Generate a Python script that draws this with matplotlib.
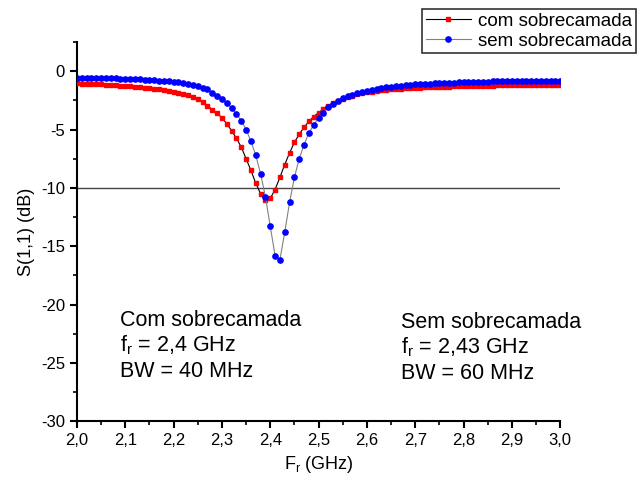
import numpy as np
import matplotlib.pyplot as plt
from matplotlib.ticker import MultipleLocator, FuncFormatter

plt.rcParams['font.family'] = ['Liberation Sans', 'DejaVu Sans']
plt.rcParams['mathtext.fontset'] = 'custom'
plt.rcParams['mathtext.rm'] = 'Liberation Sans'

# frequency grid (GHz), 0.01 GHz step
freq = np.linspace(2.0, 3.0, 101)

# S11 com sobrecamada (dB)
s11_com = [
    -1.05, -1.06, -1.08, -1.09, -1.11, -1.13, -1.15, -1.18, -1.20, -1.23,
    -1.26, -1.29, -1.32, -1.36, -1.40, -1.44, -1.49, -1.54, -1.60, -1.67,
    -1.75, -1.84, -1.95, -2.07, -2.20, -2.40, -2.65, -2.95, -3.30, -3.60,
    -4.00, -4.50, -5.10, -5.75, -6.50, -7.50, -8.50, -9.60, -10.50, -11.00,
    -10.90, -10.15, -9.10, -8.00, -7.00, -6.10, -5.40, -4.80, -4.30, -3.90,
    -3.55, -3.25, -3.00, -2.75, -2.55, -2.38, -2.23, -2.10, -1.99, -1.90,
    -1.82, -1.75, -1.69, -1.64, -1.60, -1.56, -1.53, -1.50, -1.47, -1.45,
    -1.43, -1.41, -1.39, -1.37, -1.36, -1.34, -1.33, -1.32, -1.30, -1.29,
    -1.28, -1.27, -1.26, -1.25, -1.25, -1.24, -1.23, -1.22, -1.22, -1.21,
    -1.20, -1.20, -1.19, -1.19, -1.18, -1.18, -1.17, -1.17, -1.16, -1.16,
    -1.15,
]

# S11 sem sobrecamada (dB)
s11_sem = [
    -0.55, -0.56, -0.56, -0.57, -0.58, -0.59, -0.60, -0.61, -0.62, -0.63,
    -0.65, -0.66, -0.68, -0.70, -0.72, -0.74, -0.77, -0.80, -0.83, -0.87,
    -0.91, -0.96, -1.02, -1.09, -1.17, -1.27, -1.40, -1.55, -1.85, -2.10,
    -2.40, -2.75, -3.15, -3.65, -4.25, -5.00, -6.00, -7.20, -8.80, -10.75,
    -13.30, -15.80, -16.15, -13.80, -11.25, -9.10, -7.50, -6.30, -5.30, -4.60,
    -4.00, -3.55, -3.10, -2.80, -2.55, -2.33, -2.15, -2.00, -1.87, -1.76,
    -1.66, -1.58, -1.50, -1.44, -1.38, -1.33, -1.28, -1.24, -1.20, -1.17,
    -1.14, -1.11, -1.09, -1.06, -1.04, -1.02, -1.00, -0.99, -0.97, -0.96,
    -0.94, -0.93, -0.92, -0.91, -0.90, -0.89, -0.88, -0.87, -0.86, -0.86,
    -0.85, -0.84, -0.84, -0.83, -0.83, -0.82, -0.82, -0.81, -0.81, -0.80,
    -0.80,
]

fig = plt.figure(figsize=(6.41, 4.83), dpi=100)
ax = fig.add_axes([0.120, 0.128, 0.754, 0.785])

ax.axhline(-10, color='#444444', lw=1.0, zorder=1)
ax.plot(freq, s11_com, color='black', lw=0.8, marker='s', ms=3.3,
        mfc='red', mec='red', label='com sobrecamada', zorder=3)
ax.plot(freq, s11_sem, color='gray', lw=0.8, marker='o', ms=3.8,
        mfc='blue', mec='blue', label='sem sobrecamada', zorder=4)

ax.set_xlim(2.0, 3.0)
ax.set_ylim(-30, 2.5)
ax.xaxis.set_major_locator(MultipleLocator(0.1))
ax.xaxis.set_minor_locator(MultipleLocator(0.05))
ax.yaxis.set_major_locator(MultipleLocator(5))
ax.yaxis.set_minor_locator(MultipleLocator(2.5))
ax.xaxis.set_major_formatter(FuncFormatter(lambda v, p: f'{v:.1f}'.replace('.', ',')))
ax.yaxis.set_major_formatter(FuncFormatter(lambda v, p: f'{v:.0f}'))
ax.set_yticks([-30, -25, -20, -15, -10, -5, 0])

for s in ['top', 'right']:
    ax.spines[s].set_visible(False)
for s in ['left', 'bottom']:
    ax.spines[s].set_linewidth(1.5)
ax.tick_params(which='major', direction='out', length=5, width=1.5, labelsize=12)
ax.tick_params(which='minor', direction='out', length=3, width=1.2)

ax.set_xlabel(r'F$_\mathregular{r}$ (GHz)', fontsize=13)
ax.set_ylabel('S(1,1) (dB)', fontsize=13)

ax.text(2.09, -21.8, 'Com sobrecamada', fontsize=15.5)
ax.text(2.09, -24.0, r'f$_\mathregular{r}$ = 2,4 GHz', fontsize=15.5)
ax.text(2.09, -26.2, 'BW = 40 MHz', fontsize=15.5)
ax.text(2.67, -22.0, 'Sem sobrecamada', fontsize=15.5)
ax.text(2.67, -24.2, r'f$_\mathregular{r}$ = 2,43 GHz', fontsize=15.5)
ax.text(2.67, -26.4, 'BW = 60 MHz', fontsize=15.5)

leg = fig.legend(loc='upper left', bbox_to_anchor=(0.658, 0.982), fontsize=13.5,
                 frameon=True, fancybox=False, edgecolor='black', handlelength=2.4,
                 borderpad=0.2, labelspacing=0.15, handletextpad=0.4, borderaxespad=0)
leg.get_frame().set_linewidth(1.2)

fig.savefig('out.png', dpi=100)
